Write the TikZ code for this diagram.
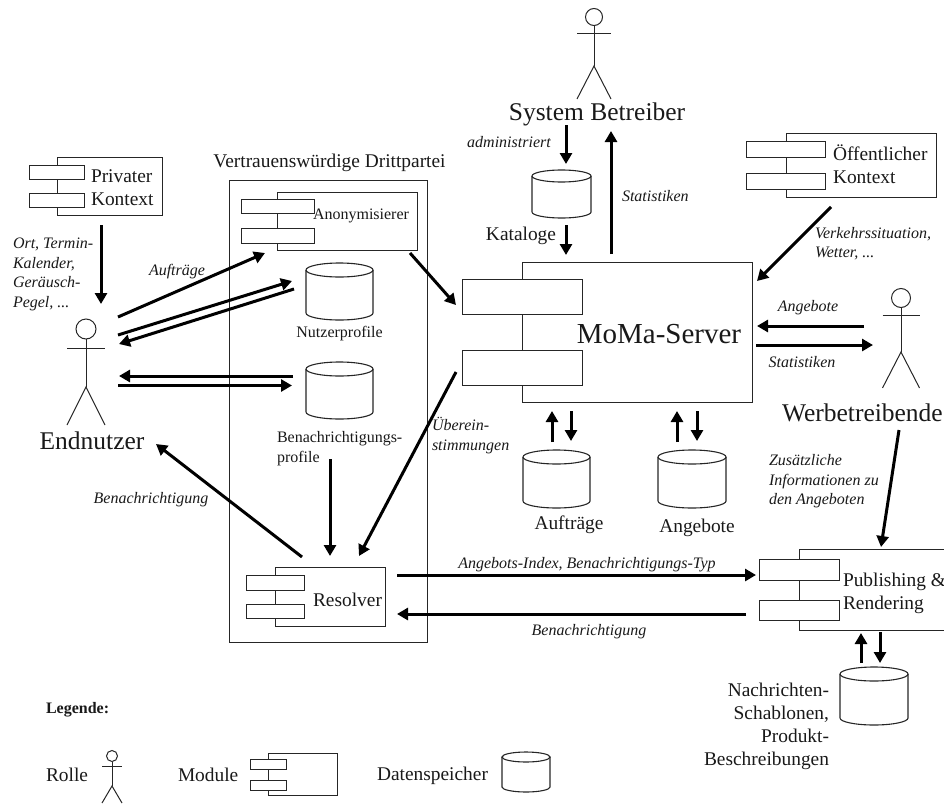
\documentclass[tikz,border=0pt]{standalone}
\usepackage{fontspec}
\setmainfont{Liberation Serif}
\usetikzlibrary{arrows.meta,shapes.geometric}
\tikzset{
  thin line/.style={line width=1pt,draw=black!85},
  modbox/.style={thin line,rectangle,fill=white,inner sep=0pt,outer sep=0pt},
  txtbase/.style={inner sep=0pt,outer sep=0pt,text=black!90},
  smallt/.style={txtbase,font=\fontsize{16}{20}\selectfont},
  midt/.style={txtbase,font=\fontsize{19.4}{23}\selectfont},
  bigt/.style={txtbase,font=\fontsize{25.5}{30}\selectfont},
  hugt/.style={txtbase,font=\fontsize{29}{34}\selectfont},
  ital/.style={txtbase,font=\fontsize{16}{19.5}\selectfont\itshape},
  arr/.style={line width=3pt,-{Triangle[length=11pt,width=12pt]},black},
}
% box from corner to corner, as a named node
\newcommand{\mybox}[5]{%
  \pgfmathsetmacro{\bw}{#4-#2}\pgfmathsetmacro{\bh}{#5-#3}%
  \pgfmathsetmacro{\bx}{(#2+#4)/2}\pgfmathsetmacro{\by}{(#3+#5)/2}%
  \node[modbox,minimum width=\bw pt,minimum height=\bh pt] (#1) at (\bx,\by) {};}
% cylinder: name, x1, y1, x2, y2, ry
\newcommand{\cyl}[6]{%
  \pgfmathsetmacro{\cw}{#4-#2}\pgfmathsetmacro{\ch}{#5-#3}%
  \pgfmathsetmacro{\cx}{(#2+#4)/2}\pgfmathsetmacro{\cy}{(#3+#5)/2}%
  \pgfmathsetmacro{\rx}{\cw/2}%
  \pgfmathsetmacro{\yt}{#3+#6}\pgfmathsetmacro{\yb}{#5-#6}%
  \node[inner sep=0pt,outer sep=0pt,minimum width=\cw pt,minimum height=\ch pt] (#1) at (\cx,\cy) {};
  \draw[thin line,line width=1.1pt] (\cx,\yt) ellipse [x radius=\rx pt,y radius=#6 pt];
  \draw[thin line,line width=1.1pt] (#2,\yt) -- (#2,\yb) arc [start angle=180,end angle=360,x radius=\rx pt,y radius=#6 pt] -- (#4,\yt);}
% actor: name, cx, head cy, head r, arm y, half arm, body end, leg end
\newcommand{\actor}[8]{%
  \pgfmathsetmacro{\ar}{2*#4}\pgfmathsetmacro{\xl}{#2-#6}\pgfmathsetmacro{\xr}{#2+#6}%
  \node[circle,thin line,minimum size=\ar pt,inner sep=0pt,outer sep=0pt] (#1) at (#2,#3) {};
  \coordinate (#1-hip) at (#2,#7);
  \draw[thin line] (#1.south) -- (#1-hip);
  \draw[thin line] (\xl,#5) -- (\xr,#5);
  \draw[thin line] (\xl,#8) -- (#1-hip) -- (\xr,#8);}
\begin{document}
\begin{tikzpicture}[x=1pt,y=-1pt]
\useasboundingbox (0,0) rectangle (944,803);
\clip (0,0) rectangle (944,803);

% trusted party frame
\mybox{trust}{229}{180.5}{427}{642}
\node[midt] (trusttitle) at (329.5,163) {Vertrauenswürdige Drittpartei};

% Privater Kontext
\mybox{pk}{57}{157}{162}{215}
\mybox{pka}{29}{165}{84}{179}
\mybox{pkb}{29}{193}{84}{207}
\node[midt,anchor=west,align=left] (pkt) at (91,187.5) {Privater\\Kontext};

% Anonymisierer
\mybox{an}{277}{192}{417}{250}
\mybox{ana}{241}{199}{314}{213}
\mybox{anb}{241}{228}{314}{243}
\node[smallt,anchor=west] (ant) at (313,216) {Anonymisierer};

% Resolver
\mybox{res}{275}{567}{385}{626}
\mybox{resa}{246}{575}{304}{590}
\mybox{resb}{246}{604}{304}{618}
\node[midt,anchor=west] (rest) at (313,600) {Resolver};

% Oeffentlicher Kontext
\mybox{ok}{786}{133}{936}{197}
\mybox{oka}{746}{141}{825}{157}
\mybox{okb}{746}{173}{825}{189}
\node[midt,anchor=west,align=left] (okt) at (833,164.5) {Öffentlicher\\Kontext};

% MoMa-Server
\mybox{moma}{522}{262}{752}{402}
\mybox{momaa}{462}{279}{582}{314}
\mybox{momab}{462}{350}{582}{385}
\node[hugt] (momat) at (659,334) {MoMa-Server};

% Publishing
\mybox{pub}{799}{549}{960}{630}
\mybox{puba}{759}{559}{839}{580}
\mybox{pubb}{759}{600}{839}{620}
\node[midt,anchor=west,align=left] (pubt) at (843,593.5) {Publishing \&\\Rendering};

% data stores
\cyl{nprof}{306}{263}{373}{320}{7}
\node[smallt] (nproft) at (339.5,334) {Nutzerprofile};
\cyl{bprof}{306}{362}{373}{419}{7}
\node[smallt,anchor=west,align=left] (bproft) at (277,449) {Benachrichtigungs-\\profile};
\cyl{kat}{532}{170}{591}{218}{6}
\node[midt] (katt) at (521,235.5) {Kataloge};
\cyl{auf}{523}{450}{590}{508}{7}
\node[midt] (auft) at (569,524.5) {Aufträge};
\cyl{ang}{658}{450}{726}{508}{7}
\node[midt] (angt) at (697,528) {Angebote};
\cyl{nach}{840}{667}{908}{725}{7}
\node[midt,anchor=east,align=right] (nacht) at (829,726) {Nachrichten-\\Schablonen,\\Produkt-\\Beschreibungen};

% actors
\actor{end}{86}{329}{10}{348}{19}{387}{425}
\node[bigt] (endt) at (92,441) {Endnutzer};
\actor{sys}{594}{17}{8.5}{33}{17}{66}{99}
\node[bigt] (syst) at (597,114.5) {System Betreiber};
\actor{wer}{901}{298}{9.5}{315}{18.5}{352}{388}
\node[bigt,anchor=west] (wert) at (782,413) {Werbetreibende};

% connector ends
\coordinate (e1a) at (101,225);   \coordinate (e1b) at (101,304);
\coordinate (e2a) at (118,317);   \coordinate (e2b) at (265,253);
\coordinate (e3a) at (118,335);   \coordinate (e3b) at (292,281);
\coordinate (e4a) at (294,289);   \coordinate (e4b) at (119,344);
\coordinate (e5a) at (293,376);   \coordinate (e5b) at (119,376);
\coordinate (e6a) at (118,385.5); \coordinate (e6b) at (292,385.5);
\coordinate (e7a) at (410,253);   \coordinate (e7b) at (456,305);
\coordinate (e8a) at (566,125);   \coordinate (e8b) at (566,164);
\coordinate (e9a) at (566,225);   \coordinate (e9b) at (566,255);
\coordinate (e10a) at (611,254);  \coordinate (e10b) at (611,131);
\coordinate (e11a) at (831,207);  \coordinate (e11b) at (757,281);
\coordinate (e12a) at (864,326);  \coordinate (e12b) at (757,326);
\coordinate (e13a) at (756,345);  \coordinate (e13b) at (873,345);
\coordinate (e14a) at (552,442);  \coordinate (e14b) at (552,411);
\coordinate (e15a) at (571,411);  \coordinate (e15b) at (571,441);
\coordinate (e16a) at (677,442);  \coordinate (e16b) at (677,411);
\coordinate (e17a) at (697,411);  \coordinate (e17b) at (697,441);
\coordinate (e18a) at (899,430);  \coordinate (e18b) at (881,547);
\coordinate (e19a) at (456,372);  \coordinate (e19b) at (359,556);
\coordinate (e20a) at (330,459);  \coordinate (e20b) at (330,556);
\coordinate (e21a) at (302,557);  \coordinate (e21b) at (156,444);
\coordinate (e22a) at (397,575);  \coordinate (e22b) at (756,575);
\coordinate (e23a) at (746,614);  \coordinate (e23b) at (397,614);
\coordinate (e24a) at (861,663);  \coordinate (e24b) at (861,633);
\coordinate (e25a) at (880,632);  \coordinate (e25b) at (880,663);

\foreach \n in {1,...,25} {\draw[arr] (e\n a) -- (e\n b);}

% labels
\node[ital,anchor=west,align=left] (l1) at (13,274.5) {Ort, Termin-\\Kalender,\\Geräusch-\\Pegel, ...};
\node[ital] (l2) at (177,271.5) {Aufträge};
\node[ital] (l3) at (509,142.5) {administriert};
\node[ital,anchor=west] (l4) at (622,196) {Statistiken};
\node[ital,anchor=west,align=left] (l5) at (815,243.5) {Verkehrssituation,\\Wetter, ...};
\node[ital] (l6) at (808,307.5) {Angebote};
\node[ital] (l7) at (802,362) {Statistiken};
\node[ital,anchor=west,align=left] (l8) at (432,435.5) {Überein-\\stimmungen};
\node[ital,anchor=west,align=left] (l9) at (769,481.5) {Zusätzliche\\Informationen zu\\den Angeboten};
\node[ital] (l10) at (151,499.5) {Benachrichtigung};
\node[ital] (l11) at (587,564.5) {Angebots-Index, Benachrichtigungs-Typ};
\node[ital] (l12) at (589,631.5) {Benachrichtigung};

% legend
\node[smallt,anchor=west,font=\fontsize{16}{20}\selectfont\bfseries] (leg) at (46,710) {Legende:};
\node[midt,anchor=west] (lrole) at (46,775) {Rolle};
\actor{legact}{112}{756}{5.5}{766}{10}{786}{803}
\node[midt,anchor=west] (lmod) at (178,775) {Module};
\mybox{legm}{268}{753}{337}{795}
\mybox{legma}{250}{759}{286}{769}
\mybox{legmb}{250}{780}{286}{790}
\node[midt,anchor=west] (ldat) at (377,776) {Datenspeicher};
\cyl{legc}{502}{752}{550}{792}{5}
\end{tikzpicture}
\end{document}
